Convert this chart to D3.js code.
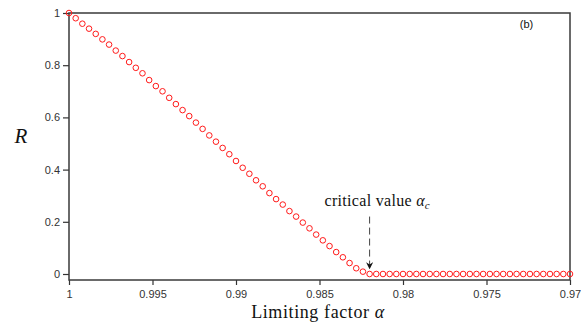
<!DOCTYPE html>
<html>
<head>
<meta charset="utf-8">
<script src="https://cdn.jsdelivr.net/npm/d3@7"></script>
<style>
  body { margin: 0; background: #fff; }
  .tick text { font-family: "Liberation Sans", Arial, sans-serif; font-size: 11px; fill: #333; }
  .serif { font-family: "Liberation Serif", "DejaVu Serif", serif; }
</style>
</head>
<body>
<svg id="chart" width="581" height="323"></svg>
<script>
// Limiting factor alpha, sampled every 0.0004 from 1 down to 0.97
const alphaStart = 1;
const alphaStep = 0.0004;
const pointCount = 76;

// R values (first 46 points), then zero to the end
const rDecline = [
    1.0, 0.980, 0.959, 0.940, 0.920, 0.899, 0.879, 0.856, 0.835, 0.812,
    0.790, 0.769, 0.743, 0.720, 0.700, 0.675, 0.651, 0.628, 0.605, 0.580,
    0.556, 0.531, 0.507, 0.483, 0.459, 0.433, 0.407, 0.384, 0.359, 0.336,
    0.310, 0.287, 0.266, 0.241, 0.220, 0.197, 0.175, 0.151, 0.129, 0.107,
    0.084, 0.064, 0.042, 0.022, 0.009, 0
];

const xTicks = [1, 0.995, 0.99, 0.985, 0.98, 0.975, 0.97];
const yTicks = [0, 0.2, 0.4, 0.6, 0.8, 1];
const criticalAlpha = 0.982;

const points = d3.range(pointCount).map(i => ({
    alpha: alphaStart - i * alphaStep,
    r: i < rDecline.length ? rDecline[i] : 0
}));

const svg = d3.select("#chart");
const margin = { top: 13, right: 11, bottom: 43, left: 69 };
const width = 581 - margin.left - margin.right;
const height = 323 - margin.top - margin.bottom;

const x = d3.scaleLinear().domain([1, 0.97]).range([0, width]);
const y = d3.scaleLinear().domain([-0.023, 1]).range([height, 0]);

const g = svg.append("g").attr("transform", `translate(${margin.left},${margin.top})`);

// axes
const fmt = d => String(+d.toFixed(3));
const xAxis = g.append("g")
    .attr("transform", `translate(0,${height})`)
    .call(d3.axisBottom(x).tickValues(xTicks).tickFormat(fmt).tickSize(5).tickSizeOuter(0).tickPadding(5));
const yAxis = g.append("g")
    .call(d3.axisLeft(y).tickValues(yTicks).tickFormat(fmt).tickSize(6).tickSizeOuter(0).tickPadding(3));
[xAxis, yAxis].forEach(a => {
    a.select(".domain").remove();
    a.selectAll(".tick line").attr("stroke", "#333").attr("stroke-width", 1.2);
});

// frame
g.append("rect")
    .attr("x", 0).attr("y", 0)
    .attr("width", width).attr("height", height)
    .attr("fill", "none")
    .attr("stroke", "#3a3a3a")
    .attr("stroke-width", 1.5);

// data points
g.selectAll(".pt")
    .data(points)
    .enter().append("circle")
    .attr("class", "pt")
    .attr("cx", d => x(d.alpha))
    .attr("cy", d => y(d.r))
    .attr("r", 2.8)
    .attr("fill", "none")
    .attr("stroke", "#ff1a1a")
    .attr("stroke-width", 1);

// annotation arrow
svg.append("defs").append("marker")
    .attr("id", "arrow")
    .attr("viewBox", "0 0 10 10")
    .attr("refX", 10).attr("refY", 5)
    .attr("markerWidth", 7).attr("markerHeight", 7)
    .attr("markerUnits", "userSpaceOnUse")
    .attr("orient", "auto")
    .append("path")
    .attr("d", "M0,0 L10,5 L0,10 L3,5 Z")
    .attr("fill", "#111");

g.append("line")
    .attr("x1", x(criticalAlpha)).attr("x2", x(criticalAlpha))
    .attr("y1", y(0.22)).attr("y2", y(0.018))
    .attr("stroke", "#444")
    .attr("stroke-width", 1)
    .attr("stroke-dasharray", "7,4")
    .attr("marker-end", "url(#arrow)");

const note = g.append("text")
    .attr("class", "serif")
    .attr("x", x(criticalAlpha) - 45)
    .attr("y", y(0.262))
    .attr("text-anchor", "start")
    .attr("font-size", 16)
    .attr("letter-spacing", 0.3)
    .attr("fill", "#111");
note.append("tspan").text("critical value ");
note.append("tspan").attr("font-style", "italic").text("α");
note.append("tspan").attr("font-style", "italic").attr("font-size", 11).attr("dy", 3).text("c");

// panel label
g.append("text")
    .attr("x", x(0.9726))
    .attr("y", 15)
    .attr("text-anchor", "middle")
    .attr("font-family", "Liberation Sans, Arial, sans-serif")
    .attr("font-size", 11)
    .attr("fill", "#111")
    .text("(b)");

// axis titles
const xl = svg.append("text")
    .attr("class", "serif")
    .attr("x", 318)
    .attr("y", 318)
    .attr("text-anchor", "middle")
    .attr("font-size", 18)
    .attr("letter-spacing", 0.6)
    .attr("fill", "#111");
xl.append("tspan").text("Limiting factor ");
xl.append("tspan").attr("font-style", "italic").text("α");

svg.append("text")
    .attr("class", "serif")
    .attr("x", 21)
    .attr("y", 143)
    .attr("text-anchor", "middle")
    .attr("font-size", 21)
    .attr("font-style", "italic")
    .attr("fill", "#111")
    .text("R");
</script>
</body>
</html>
